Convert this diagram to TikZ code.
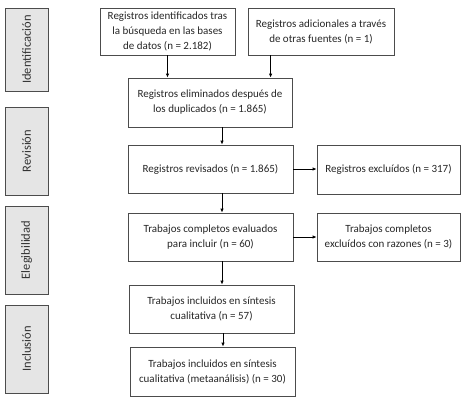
\documentclass[tikz,border=0pt]{standalone}
\usepackage{fontspec}
\setmainfont{Carlito}
\usepackage{xcolor}
\usetikzlibrary{arrows.meta,positioning,calc}

\begin{document}
\begin{tikzpicture}[x=1pt,y=-1pt,
  box/.style={draw=black!70, line width=0.8pt, align=center, text=black!85,
    font=\fontsize{11}{15}\selectfont, inner sep=1pt},
  phase/.style={draw=black!70, line width=0.8pt, fill=black!10, rotate=90,
    minimum width=88pt, minimum height=43pt, text=black!80,
    font=\fontsize{12.5}{14}\selectfont},
  flecha/.style={-{Latex[length=4pt,width=3.5pt]}, line width=0.9pt, black}]
  \useasboundingbox (0,0) rectangle (467,405);
  % fases
  \node[phase, minimum width=83pt] (ident) at (26.5,49.5) {Identificación};
  \node[phase] (revis) at (26.5,151) {Revisión};
  \node[phase] (elegi) at (26.5,250) {Elegibilidad};
  \node[phase] (inclu) at (26.5,349) {Inclusión};
  % cajas
  \node[box, minimum width=135pt, minimum height=47pt] (busq) at (167.5,31.5) {Registros identificados tras\\la búsqueda en las bases\\de datos (n = 2.182)};
  \node[box, minimum width=146pt, minimum height=47pt] (otras) at (321,31.5) {Registros adicionales a través\\de otras fuentes (n = 1)};
  \node[box, minimum width=164pt, minimum height=49pt] (dupl) at (210,102.5) {Registros eliminados después de\\los duplicados (n = 1.865)};
  \node[box, minimum width=165pt, minimum height=48pt] (revisados) at (210.5,169) {Registros revisados (n = 1.865)};
  \node[box, minimum width=143pt, minimum height=49pt] (excl) at (388.5,169.5) {Registros excluídos (n = 317)};
  \node[box, minimum width=165pt, minimum height=48pt] (evaluados) at (210.5,237) {Trabajos completos evaluados\\para incluir (n = 60)};
  \node[box, minimum width=143pt, minimum height=48pt] (razones) at (388.5,237) {Trabajos completos\\excluídos con razones (n = 3)};
  \node[box, minimum width=165pt, minimum height=48pt] (cualit) at (211.5,309) {Trabajos incluidos en síntesis\\cualitativa (n = 57)};
  \node[box, minimum width=165pt, minimum height=49pt] (meta) at (212.5,371.5) {Trabajos incluidos en síntesis\\cualitativa (metaanálisis) (n = 30)};
  % flechas
  \coordinate (otras-s) at ($(otras.south west)+(23,0)$);
  \draw[flecha] (busq.south) -- (busq.south |- dupl.north);
  \draw[flecha] (otras-s) -- (otras-s |- dupl.north);
  \draw[flecha] ([xshift=12pt]dupl.south) -- ([xshift=12pt]dupl.south |- revisados.north);
  \draw[flecha] (revisados.east) -- (excl.west |- revisados.east);
  \draw[flecha] ([xshift=11.5pt]revisados.south) -- ([xshift=11.5pt]revisados.south |- evaluados.north);
  \draw[flecha] (evaluados.east) -- (razones.west |- evaluados.east);
  \draw[flecha] ([xshift=11.5pt]evaluados.south) -- ([xshift=11.5pt]evaluados.south |- cualit.north);
  \draw[flecha] ([xshift=11.5pt]cualit.south) -- ([xshift=11.5pt]cualit.south |- meta.north);
\end{tikzpicture}
\end{document}
